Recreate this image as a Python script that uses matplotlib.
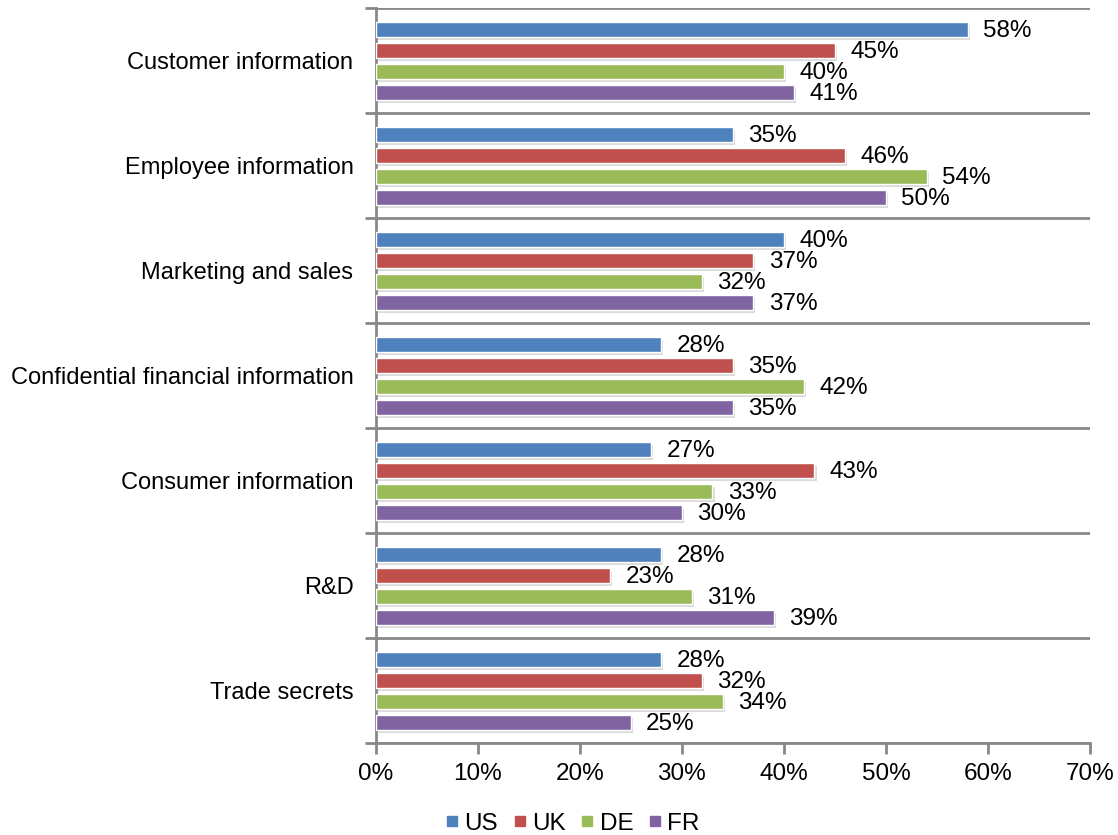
import numpy as np
from matplotlib import pyplot as plt
from matplotlib import patheffects as pe
from matplotlib.lines import Line2D
from matplotlib.ticker import PercentFormatter, FixedLocator

plt.rcParams['font.family'] = ['Liberation Sans', 'DejaVu Sans']

categorias = ['Customer information', 'Employee information', 'Marketing and sales',
              'Confidential financial information', 'Consumer information', 'R&D',
              'Trade secrets']
series = ['US', 'UK', 'DE', 'FR']
us = [58, 35, 40, 28, 27, 28, 28]
uk = [45, 46, 37, 35, 43, 23, 32]
de = [40, 54, 32, 42, 33, 31, 34]
fr = [41, 50, 37, 35, 30, 39, 25]
cores = ['#4F81BD', '#C0504D', '#9BBB59', '#8064A2']

valores = [us, uk, de, fr]

fig = plt.figure(figsize=(11.18, 8.35), dpi=100)
ax = fig.add_axes([0.336, 0.110, 0.639, 0.880])

y = np.arange(len(categorias))
altura = 0.145
passo = 0.2
sombra = [pe.SimplePatchShadow(offset=(1.5, -2.5), alpha=0.25, shadow_rgbFace='#707070'), pe.Normal()]

for i, (nome, vals, cor) in enumerate(zip(series, valores, cores)):
    pos = y + (i - 1.5) * passo
    v = np.array(vals) / 100
    barras = ax.barh(pos, v, height=altura, color=cor, edgecolor='white',
                     linewidth=1.0, label=nome, zorder=3)
    for b in barras:
        b.set_path_effects(sombra)
    for p, val in zip(pos, vals):
        ax.text(val / 100 + 0.015, p + 0.02, f'{val}%', va='center', ha='left',
                fontsize=17.5, zorder=4)

ax.set_xlim(0, 0.7)
ax.set_ylim(len(categorias) - 0.5, -0.5)
ax.xaxis.set_major_formatter(PercentFormatter(1.0, decimals=0))
ax.set_xticks(np.arange(0, 0.71, 0.1))
ax.set_yticks(y)
ax.set_yticklabels(categorias, fontsize=17)
ax.yaxis.set_minor_locator(FixedLocator(np.arange(-0.5, len(categorias), 1)))
ax.tick_params(axis='y', which='major', length=0, pad=16)
ax.tick_params(axis='y', which='minor', length=8, width=2, color='#888888')
ax.tick_params(axis='x', length=8, width=2, color='#888888', labelsize=17.5, pad=6)
ax.grid(axis='y', which='minor', color='#888888', linewidth=2, zorder=1)

for lado in ['top', 'right']:
    ax.spines[lado].set_visible(False)
ax.spines['left'].set_color('#888888')
ax.spines['left'].set_linewidth(2)
ax.spines['bottom'].set_color('#888888')
ax.spines['bottom'].set_linewidth(2)

marcas = [Line2D([], [], marker='s', linestyle='', color=c, markersize=7) for c in cores]
ax.legend(marcas, series, loc='upper center', bbox_to_anchor=(0.276, -0.078), ncol=4,
          frameon=False, fontsize=17.5, handlelength=0.5, handletextpad=0.25,
          columnspacing=0.65, borderpad=0)

plt.savefig('out.png', format='png', dpi=100)
